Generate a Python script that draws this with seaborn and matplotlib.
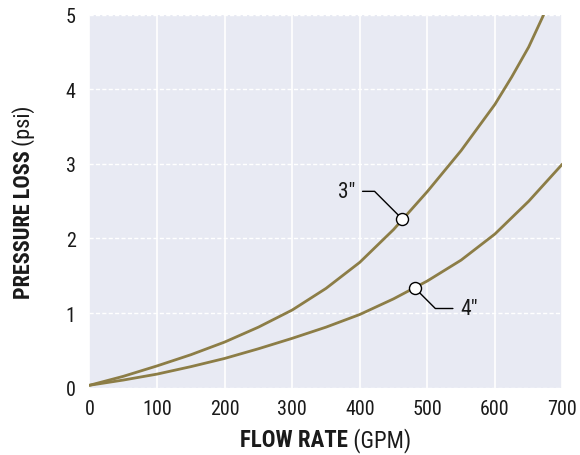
import matplotlib
matplotlib.use('Agg')
import matplotlib.pyplot as plt
import matplotlib.font_manager as fm
import pandas as pd
import seaborn as sns

# values
flow_3in = [0, 50, 100, 150, 200, 250, 300, 350, 400, 450, 500, 550, 600, 625, 650, 672]
loss_3in = [0.03, 0.15, 0.29, 0.44, 0.61, 0.81, 1.04, 1.33, 1.68, 2.12, 2.63, 3.18, 3.80, 4.17, 4.57, 5.0]
flow_4in = [0, 50, 100, 150, 200, 250, 300, 350, 400, 450, 500, 550, 600, 650, 700]
loss_4in = [0.03, 0.10, 0.18, 0.28, 0.39, 0.52, 0.66, 0.81, 0.98, 1.19, 1.43, 1.71, 2.06, 2.50, 3.0]
pipe_labels = ['3"', '4"']
marker_flow = [463, 481]
marker_loss = [2.26, 1.34]

x_ticks = [0, 100, 200, 300, 400, 500, 600, 700]
y_ticks = [0, 1, 2, 3, 4, 5]

LINE_COLOR = '#8c7d46'
TEXT_COLOR = '#1a1a1a'

sns.set_style('darkgrid', {'axes.facecolor': '#e8eaf3'})
names = {f.name for f in fm.fontManager.ttflist}
FONT = 'Roboto'
for cand in ['Roboto Condensed', 'Liberation Sans Narrow', 'Roboto']:
    if cand in names:
        FONT = cand
        break
plt.rcParams['font.family'] = [FONT, 'DejaVu Sans']

df = pd.concat([
    pd.DataFrame({'flow': flow_3in, 'loss': loss_3in, 'pipe': pipe_labels[0]}),
    pd.DataFrame({'flow': flow_4in, 'loss': loss_4in, 'pipe': pipe_labels[1]}),
])
df_mark = pd.DataFrame({'flow': marker_flow, 'loss': marker_loss, 'pipe': pipe_labels})

fig = plt.figure(figsize=(5.8, 4.56), dpi=100)
ax = fig.add_axes([0.1543, 0.148, 0.8155, 0.817])

sns.lineplot(data=df, x='flow', y='loss', hue='pipe', sort=False,
             palette=[LINE_COLOR, LINE_COLOR], lw=2.0, legend=False, ax=ax, zorder=3)

ax.set_xlim(0, 700)
ax.set_ylim(0, 5)
ax.set_xticks(x_ticks)
ax.set_yticks(y_ticks)
ax.tick_params(axis='both', length=0, labelsize=14.5, labelcolor=TEXT_COLOR)
ax.tick_params(axis='x', pad=8)
ax.tick_params(axis='y', pad=10)
ax.xaxis.grid(True, color='white', lw=1.2, ls='-')
ax.yaxis.grid(True, color='white', lw=1.0, ls=(0, (3, 1.6)))
for s in ax.spines.values():
    s.set_visible(False)

# leader-line labels
offsets = [(-34, 20), (33, -15)]
aligns = ['right', 'left']
for i in range(len(pipe_labels)):
    ax.annotate(pipe_labels[i].replace('"', '\u2033'), xy=(marker_flow[i], marker_loss[i]),
                xytext=offsets[i], textcoords='offset points',
                ha=aligns[i], va='center', fontsize=15.5, color=TEXT_COLOR,
                arrowprops=dict(arrowstyle='-', color='black', lw=1.0,
                                shrinkA=3, shrinkB=0,
                                connectionstyle='angle,angleA=0,angleB=-45,rad=0'),
                zorder=4)

sns.scatterplot(data=df_mark, x='flow', y='loss', s=75, color='white',
                edgecolor='black', linewidth=1.0, ax=ax, zorder=5, legend=False)
ax.set_xlabel('')
ax.set_ylabel('')

# axis titles: bold part + regular part
fig.canvas.draw()
r = fig.canvas.get_renderer()
cx = (ax.get_position().x0 + ax.get_position().x1) / 2
cy = (ax.get_position().y0 + ax.get_position().y1) / 2

xb = fig.text(0, 0.033, 'FLOW RATE', fontsize=16.5, fontweight='bold', color=TEXT_COLOR,
              ha='left', va='center')
xr = fig.text(0, 0.033, '\u00a0(GPM)', fontsize=16.5, color=TEXT_COLOR, ha='left', va='center')
w1 = xb.get_window_extent(r).width / fig.bbox.width
w2 = xr.get_window_extent(r).width / fig.bbox.width
x0 = cx - (w1 + w2) / 2
xb.set_x(x0)
xr.set_x(x0 + w1)

yb = fig.text(0.041, 0, 'PRESSURE LOSS', fontsize=16, fontweight='bold', color=TEXT_COLOR,
              rotation=90, ha='center', va='bottom')
yr = fig.text(0.041, 0, '\u00a0(psi)', fontsize=16, color=TEXT_COLOR,
              rotation=90, ha='center', va='bottom')
h1 = yb.get_window_extent(r).height / fig.bbox.height
h2 = yr.get_window_extent(r).height / fig.bbox.height
y0 = cy - (h1 + h2) / 2
yb.set_y(y0)
yr.set_y(y0 + h1)

fig.savefig('out.png', dpi=100)
plt.close(fig)
